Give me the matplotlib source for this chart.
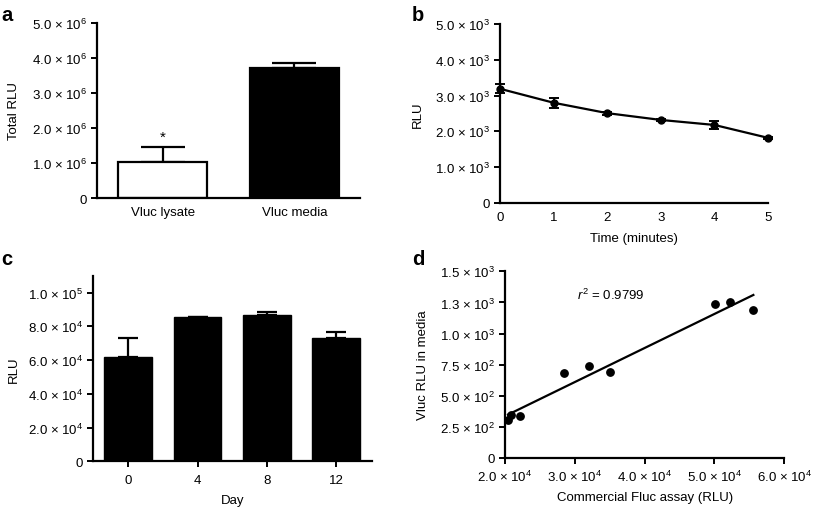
import numpy as np
import matplotlib
matplotlib.use('Agg')
import matplotlib.pyplot as plt

plt.rcParams['font.family'] = ['Liberation Sans', 'DejaVu Sans']
plt.rcParams['mathtext.fontset'] = 'custom'
plt.rcParams['mathtext.rm'] = 'Liberation Sans'
plt.rcParams['mathtext.it'] = 'Liberation Sans:italic'
plt.rcParams['font.size'] = 9.5

# panel a
a_labels = ['Vluc lysate', 'Vluc media']
a_vals = [1.03e6, 3.71e6]
a_err = [0.43e6, 0.14e6]
a_yticks = [0, 1e6, 2e6, 3e6, 4e6, 5e6]
a_yticklabels = ['0', r'1.0 × 10$^{6}$', r'2.0 × 10$^{6}$', r'3.0 × 10$^{6}$',
                 r'4.0 × 10$^{6}$', r'5.0 × 10$^{6}$']

# panel b
b_time = [0, 1, 2, 3, 4, 5]
b_rlu = [3190, 2800, 2510, 2320, 2180, 1820]
b_err = [120, 135, 40, 30, 120, 30]
b_yticks = [0, 1000, 2000, 3000, 4000, 5000]
b_yticklabels = ['0', r'1.0 × 10$^{3}$', r'2.0 × 10$^{3}$', r'3.0 × 10$^{3}$',
                 r'4.0 × 10$^{3}$', r'5.0 × 10$^{3}$']

# panel c
c_days = ['0', '4', '8', '12']
c_vals = [62.1e3, 85.3e3, 86.5e3, 72.8e3]
c_err = [11.1e3, 0.3e3, 2.2e3, 4.0e3]
c_yticks = [0, 2e4, 4e4, 6e4, 8e4, 1e5]
c_yticklabels = ['0', r'2.0 × 10$^{4}$', r'4.0 × 10$^{4}$', r'6.0 × 10$^{4}$',
                 r'8.0 × 10$^{4}$', r'1.0 × 10$^{5}$']

# panel d
d_fluc = [20430, 20860, 22190, 28500, 32030, 35040, 50090, 52280, 55570]
d_vluc = [305, 346, 335, 683, 737, 689, 1238, 1254, 1192]
d_r2_text = r'$r^{2}$ = 0.9799'
d_xticks = [2e4, 3e4, 4e4, 5e4, 6e4]
d_xticklabels = [r'2.0 × 10$^{4}$', r'3.0 × 10$^{4}$', r'4.0 × 10$^{4}$',
                 r'5.0 × 10$^{4}$', r'6.0 × 10$^{4}$']
d_yticks = [0, 250, 500, 750, 1000, 1250, 1500]
d_yticklabels = ['0', r'2.5 × 10$^{2}$', r'5.0 × 10$^{2}$', r'7.5 × 10$^{2}$',
                 r'1.0 × 10$^{3}$', r'1.3 × 10$^{3}$', r'1.5 × 10$^{3}$']


def style_ax(ax):
    for s in ['top', 'right']:
        ax.spines[s].set_visible(False)
    for s in ['left', 'bottom']:
        ax.spines[s].set_linewidth(1.6)
    ax.tick_params(width=1.4, length=4, labelsize=9.5, pad=3)


fig = plt.figure(figsize=(8.14, 5.10), dpi=100)
ax1 = fig.add_axes([0.1192, 0.6098, 0.3231, 0.3431])
ax2 = fig.add_axes([0.6143, 0.6000, 0.3292, 0.3510])
ax3 = fig.add_axes([0.1139, 0.0935, 0.3428, 0.3639])
ax4 = fig.add_axes([0.6204, 0.1000, 0.3431, 0.3660])

# a
xa = np.arange(len(a_labels))
ax1.bar(xa, a_vals, width=0.68, color=['white', 'black'], edgecolor='black', linewidth=1.6, zorder=2)
ax1.errorbar(xa, a_vals, yerr=[[0, 0], a_err], fmt='none', ecolor='black', elinewidth=1.6,
             capsize=16, capthick=1.6, zorder=1)
ax1.annotate('*', (xa[0], a_vals[0] + a_err[0]), xytext=(0, 2), textcoords='offset points',
             ha='center', va='bottom', fontsize=11)
ax1.set_xlim(-0.5, 1.5)
ax1.set_ylim(0, 5e6)
ax1.set_xticks(xa)
ax1.set_xticklabels(a_labels)
ax1.set_yticks(a_yticks)
ax1.set_yticklabels(a_yticklabels)
ax1.set_ylabel('Total RLU', labelpad=9)
style_ax(ax1)
ax1.tick_params(axis='x', length=0, pad=6)

# b
ax2.errorbar(b_time, b_rlu, yerr=b_err, color='black', linewidth=1.6, marker='o', markersize=5,
             elinewidth=1.4, capsize=3.5, capthick=1.4, clip_on=False, zorder=3)
ax2.set_xlim(0, 5)
ax2.set_ylim(0, 5000)
ax2.set_xticks(b_time)
ax2.set_yticks(b_yticks)
ax2.set_yticklabels(b_yticklabels)
ax2.set_xlabel('Time (minutes)', labelpad=6)
ax2.set_ylabel('RLU', labelpad=8.5)
style_ax(ax2)
ax2.tick_params(axis='x', length=0, pad=6)

# c
xc = np.arange(len(c_days))
ax3.bar(xc, c_vals, width=0.69, color='black', edgecolor='black', zorder=2)
ax3.errorbar(xc, c_vals, yerr=[[0] * len(c_err), c_err], fmt='none', ecolor='black', elinewidth=1.6,
             capsize=7.5, capthick=1.6, zorder=1)
ax3.set_xlim(-0.51, 3.51)
ax3.set_ylim(0, 1.1e5)
ax3.set_xticks(xc)
ax3.set_xticklabels(c_days)
ax3.set_yticks(c_yticks)
ax3.set_yticklabels(c_yticklabels)
ax3.set_xlabel('Day', labelpad=6)
ax3.set_ylabel('RLU', labelpad=6)
style_ax(ax3)
ax3.tick_params(axis='x', pad=5)

# d
slope, icpt = np.polyfit(d_fluc, d_vluc, 1)
xfit = np.array([min(d_fluc), max(d_fluc)])
ax4.plot(xfit, slope * xfit + icpt, color='black', linewidth=1.6)
ax4.plot(d_fluc, d_vluc, 'o', color='black', markersize=5.3, clip_on=False)
ax4.text(30300, 1318, d_r2_text, ha='left', va='center', fontsize=9.5)
ax4.set_xlim(2e4, 6e4)
ax4.set_ylim(0, 1500)
ax4.set_xticks(d_xticks)
ax4.set_xticklabels(d_xticklabels)
ax4.set_yticks(d_yticks)
ax4.set_yticklabels(d_yticklabels)
ax4.set_xlabel('Commercial Fluc assay (RLU)', labelpad=5)
ax4.set_ylabel('Vluc RLU in media', labelpad=8)
style_ax(ax4)
ax4.tick_params(axis='x', pad=4)

# panel letters
for lab, (x, y) in zip(['a', 'b', 'c', 'd'], [(0.002, 0.988), (0.506, 0.988), (0.002, 0.51), (0.506, 0.51)]):
    fig.text(x, y, lab, fontsize=14.5, fontweight='bold', ha='left', va='top')

plt.savefig('out.png', dpi=100)
